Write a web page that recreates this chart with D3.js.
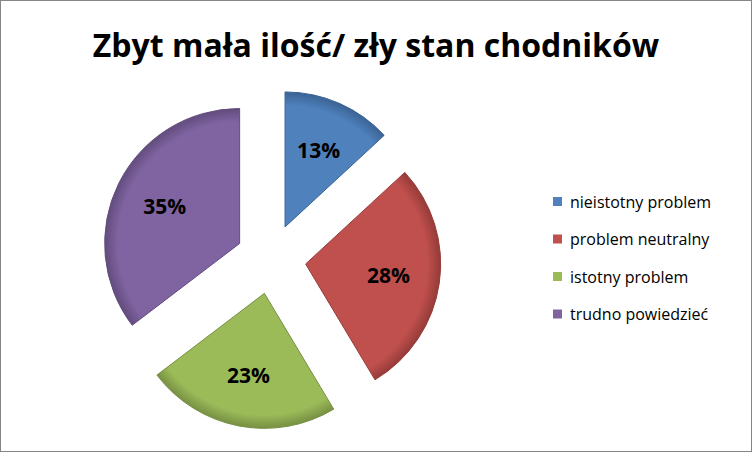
<!DOCTYPE html>
<html><head><meta charset="utf-8">
<script src="https://cdn.jsdelivr.net/npm/d3@7"></script>
<style>body{margin:0;background:#fff}</style></head>
<body><svg id="c" width="752" height="452"></svg>
<script>
// chart data
var categories = ['nieistotny problem', 'problem neutralny', 'istotny problem', 'trudno powiedzieć'];
var values = [13, 28, 23, 35];
var colors = ['#4F81BD', '#C0504D', '#9BBB59', '#8064A2'];
var edges = ['#3A6394', '#953B39', '#779043', '#624C7D'];

var svg = d3.select('#c');
svg.append('rect').attr('x', 0.5).attr('y', 0.5).attr('width', 751).attr('height', 451)
  .attr('fill', '#fff').attr('stroke', '#868686');

svg.append('text').attr('x', 376).attr('y', 57).attr('text-anchor', 'middle')
  .style('font', 'bold 32px "Open Sans", "Liberation Sans", sans-serif').text('Zbyt mała ilość/ zły stan chodników');

var cx = 271, cy = 259, r = 135, explode = 35;
var pie = d3.pie().sort(null)(values);
var arc = d3.arc().innerRadius(0).outerRadius(r);
var labelArc = d3.arc().innerRadius(r * 0.62).outerRadius(r * 0.62);

var g = svg.append('g').attr('transform', 'translate(' + cx + ',' + cy + ')');
var defs = svg.append('defs');
colors.forEach(function (c, i) {
  var gr = defs.append('radialGradient').attr('id', 'g' + i)
    .attr('gradientUnits', 'userSpaceOnUse').attr('cx', 0).attr('cy', 0).attr('r', r);
  gr.append('stop').attr('offset', '0.9').attr('stop-color', c);
  gr.append('stop').attr('offset', '1').attr('stop-color', edges[i]);
});

var slices = g.selectAll('.slice').data(pie).enter().append('g')
  .attr('transform', function (d) {
    var a = (d.startAngle + d.endAngle) / 2;
    return 'translate(' + (Math.sin(a) * explode) + ',' + (-Math.cos(a) * explode) + ')';
  });
slices.append('path').attr('d', arc)
  .attr('fill', function (d, i) { return 'url(#g' + i + ')'; })
  .attr('stroke', function (d, i) { return edges[i]; }).attr('stroke-width', 1);
slices.append('text')
  .attr('transform', function (d) { return 'translate(' + labelArc.centroid(d) + ')'; })
  .attr('text-anchor', 'middle').attr('dy', '0.35em')
  .style('font', 'bold 21px "Open Sans", "Liberation Sans", sans-serif')
  .text(function (d) { return d.value + '%'; });

var legend = svg.selectAll('.leg').data(categories).enter().append('g')
  .attr('transform', function (d, i) { return 'translate(553,' + (202 + i * 37.5) + ')'; });
legend.append('rect').attr('x', 0).attr('y', -5).attr('width', 9).attr('height', 9)
  .attr('fill', function (d, i) { return colors[i]; });
legend.append('text').attr('x', 17).attr('y', 0).attr('dy', '0.35em')
  .style('font', '16px "Open Sans", "Liberation Sans", sans-serif').text(function (d) { return d; });
</script></body></html>
